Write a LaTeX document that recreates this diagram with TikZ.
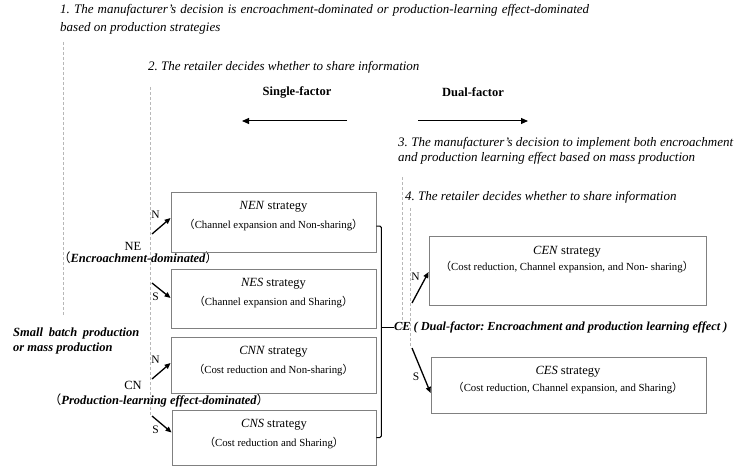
\documentclass[tikz,border=0pt]{standalone}
\usepackage{fontspec}
\setmainfont{Liberation Serif}
\newfontfamily\cjk{Noto Sans CJK SC}
\usetikzlibrary{arrows.meta}
\newcommand{\lpar}{{\cjk\mdseries\upshape （}}
\newcommand{\rpar}{{\cjk\mdseries\upshape ）}}
\definecolor{boxgray}{HTML}{808080}
\definecolor{dashgray}{HTML}{B8B8B8}
\frenchspacing
\begin{document}
\begin{tikzpicture}[x=1pt,y=-1pt,
  box/.style={draw=boxgray,line width=0.8pt,rectangle,inner sep=0pt},
  txt/.style={inner sep=0pt,font=\fontsize{12.5}{14}\selectfont},
  itxt/.style={inner sep=0pt,font=\fontsize{13}{15}\selectfont\itshape},
  bitxt/.style={inner sep=0pt,font=\fontsize{12.5}{14}\selectfont\bfseries\itshape},
  btxt/.style={inner sep=0pt,font=\fontsize{12.5}{14}\selectfont\bfseries},
  subtxt/.style={inner sep=0pt,font=\fontsize{10.8}{12}\selectfont},
  lbl/.style={inner sep=0pt,font=\fontsize{11.5}{13}\selectfont},
  dashline/.style={draw=dashgray,line width=1pt,dash pattern=on 3pt off 2pt},
  bigarr/.style={-{Triangle[length=7pt,width=6pt]},line width=1pt},
  arr/.style={-{Triangle[length=6pt,width=5pt]},line width=1.3pt}
]
\useasboundingbox (0,0) rectangle (736,468);

% headings
\node[itxt,anchor=west] (t1a) at (60,10) {\makebox[529pt][s]{1. The manufacturer's decision is encroachment-dominated or production-learning effect-dominated}};
\node[itxt,anchor=west] (t1b) at (60,28) {based on production strategies};
\node[itxt,anchor=west] (t2) at (148,67) {2. The retailer decides whether to share information};
\node[itxt,anchor=west] (t3a) at (398,143) {\makebox[335pt][s]{3. The manufacturer's decision to implement both encroachment}};
\node[itxt,anchor=west] (t3b) at (398,158) {and production learning effect based on mass production};
\node[itxt,anchor=west] (t4) at (405,197) {4. The retailer decides whether to share information};

\node[btxt] (single) at (297,92) {Single-factor};
\node[btxt] (dual) at (473,92) {Dual-factor};
\coordinate (sa1) at (347,121); \coordinate (sa2) at (242,121);
\coordinate (da1) at (418,121); \coordinate (da2) at (528,121);
\draw[bigarr] (sa1) -- (sa2);
\draw[bigarr] (da1) -- (da2);

% dashed guide lines
\coordinate (d1a) at (63,42);  \coordinate (d1b) at (63,315);
\coordinate (d2a) at (150,87); \coordinate (d2b) at (150,417);
\coordinate (d3a) at (402,177); \coordinate (d3b) at (402,328);
\coordinate (d4a) at (410,208); \coordinate (d4b) at (410,348);
\draw[dashline] (d1a) -- (d1b);
\draw[dashline] (d2a) -- (d2b);
\draw[dashline] (d3a) -- (d3b);
\draw[dashline] (d4a) -- (d4b);

% left labels
\node[bitxt,anchor=west] (sb1) at (13,333) {\makebox[126pt][s]{Small batch production}};
\node[bitxt,anchor=west] (sb2) at (13,348) {or mass production};
\node[txt] (NE) at (133,246) {NE};
\node[bitxt] (NEd) at (138,258) {\lpar Encroachment-dominated\rpar};
\node[txt] (CN) at (133,385) {CN};
\node[bitxt] (CNd) at (159,400) {\lpar Production-learning effect-dominated\rpar};

% strategy boxes
\node[box,minimum width=205pt,minimum height=60pt] (NEN) at (273.5,222) {};
\node[txt] (NENt) at (273.5,207) {\textit{NEN} strategy};
\node[subtxt] (NENs) at (273.5,225) {\lpar Channel expansion and Non-sharing\rpar};

\node[box,minimum width=205pt,minimum height=59pt] (NES) at (273.5,298.5) {};
\node[txt] (NESt) at (273.5,284) {\textit{NES} strategy};
\node[subtxt] (NESs) at (273.5,302) {\lpar Channel expansion and Sharing\rpar};

\node[box,minimum width=205pt,minimum height=56pt] (CNN) at (273.5,365) {};
\node[txt] (CNNt) at (273.5,352) {\textit{CNN} strategy};
\node[subtxt] (CNNs) at (273.5,370) {\lpar Cost reduction and Non-sharing\rpar};

\node[box,minimum width=204pt,minimum height=55pt] (CNS) at (274,437.5) {};
\node[txt] (CNSt) at (274,425) {\textit{CNS} strategy};
\node[subtxt] (CNSs) at (274,443) {\lpar Cost reduction and Sharing\rpar};

\node[box,minimum width=277pt,minimum height=69pt] (CEN) at (567.5,270.5) {};
\node[txt] (CENt) at (567,252) {\textit{CEN} strategy};
\node[subtxt] (CENs) at (567,267) {\lpar Cost reduction, Channel expansion, and Non- sharing\rpar};

\node[box,minimum width=275pt,minimum height=56pt] (CES) at (568.5,385) {};
\node[txt] (CESt) at (568,372) {\textit{CES} strategy};
\node[subtxt] (CESs) at (568,388) {\lpar Cost reduction, Channel expansion, and Sharing\rpar};

% bracket and CE
\draw[line width=1pt,rounded corners=1.5pt] ([yshift=-4pt]NEN.east) -- ++(5,0) |- (CNS.east);
\node[anchor=west,inner sep=0pt,font=\fontsize{12.3}{14}\selectfont\bfseries\itshape] (CE) at (394,327) {CE ( Dual-factor: Encroachment and production learning effect )};
\coordinate (J) at (381,327);
\draw[line width=1pt] (J) -- (CE.west);

% N / S arrows
\coordinate (a1) at (152,234); \draw[arr] (a1) -- ([yshift=4pt]NEN.west);
\node[lbl] (N1) at (155.5,215) {N};
\coordinate (a2) at (152,283); \draw[arr] (a2) -- ([yshift=0.5pt]NES.west);
\node[lbl] (S1) at (155.5,297) {S};
\coordinate (a3) at (152,379); \draw[arr] (a3) -- ([yshift=2pt]CNN.west);
\node[lbl] (N2) at (155.5,360) {N};
\coordinate (a4) at (152,416); \draw[arr] (a4) -- ([yshift=5pt]CNS.west);
\node[lbl] (S2) at (155.5,430) {S};
\coordinate (a5) at (412,303); \draw[arr] (a5) -- ([yshift=-1.5pt]CEN.west);
\node[lbl] (N3) at (415.5,277) {N};
\coordinate (a6) at (412,348); \draw[arr] (a6) -- ([yshift=-8pt]CES.west);
\node[lbl] (S3) at (416,377) {S};
\end{tikzpicture}
\end{document}
